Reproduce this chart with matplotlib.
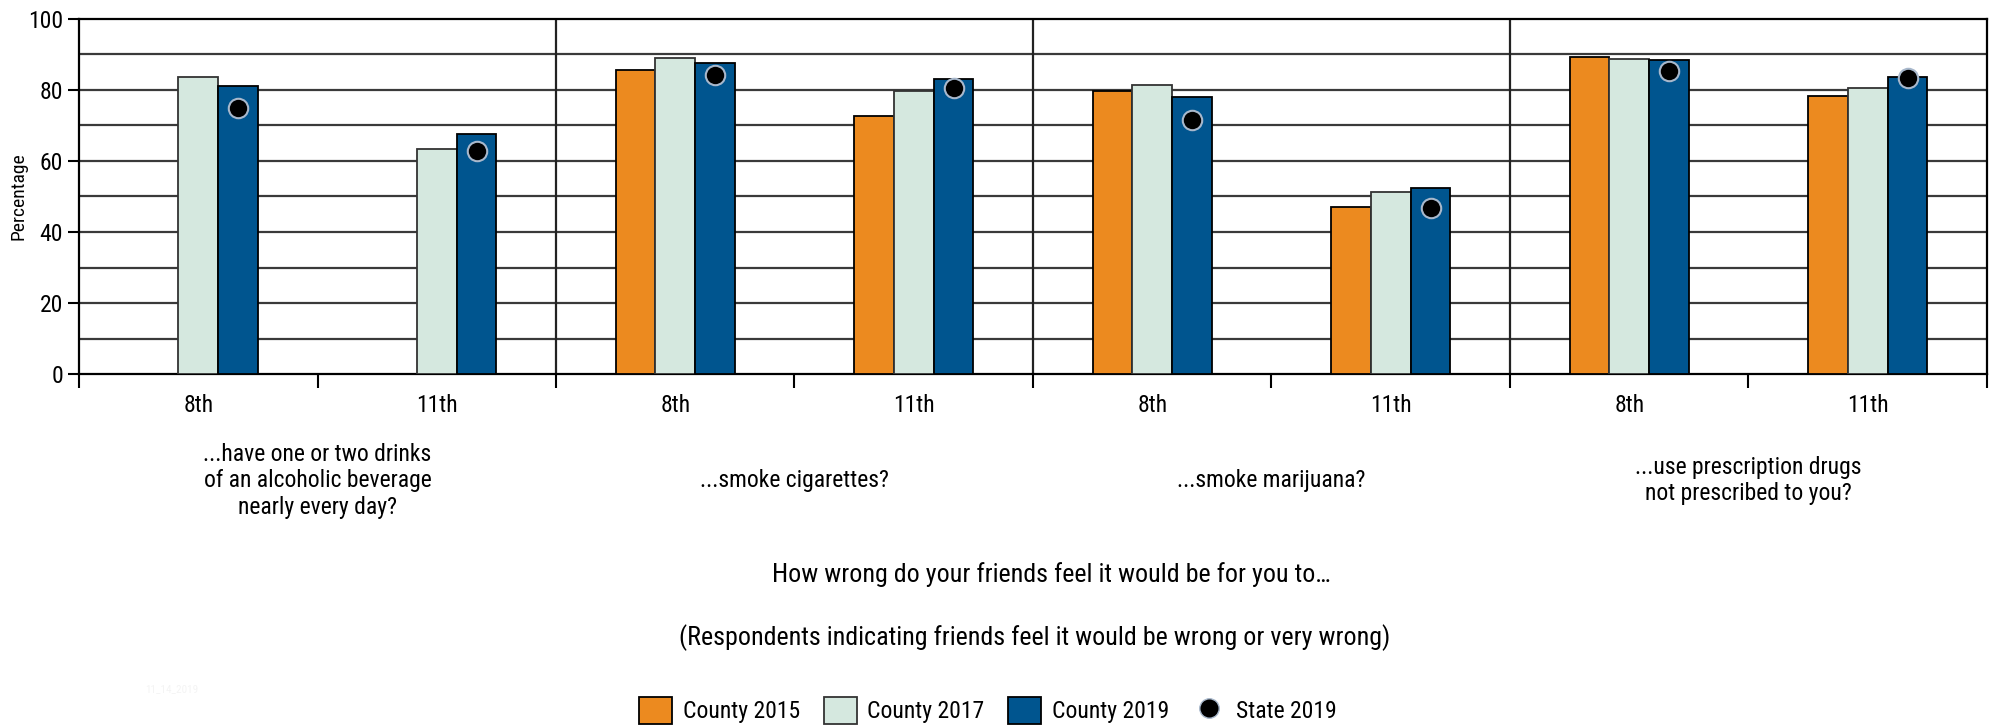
import matplotlib
matplotlib.use("Agg")
import matplotlib.pyplot as plt
from matplotlib import font_manager
from matplotlib.patches import Patch
from matplotlib.lines import Line2D
import numpy as np

# pick a condensed face if one is installed
installed = {f.name for f in font_manager.fontManager.ttflist}
narrow = False
font = 'DejaVu Sans'
for cand in ['Liberation Sans Narrow', 'Roboto Condensed', 'Open Sans Condensed',
             'Noto Sans Condensed', 'Liberation Sans']:
    if cand in installed:
        font = cand
        narrow = cand != 'Liberation Sans'
        break
plt.rcParams['font.family'] = [font, 'DejaVu Sans']
fs = 17 if narrow else 15.5

# data
grades = ["8th", "11th", "8th", "11th", "8th", "11th", "8th", "11th"]
questions = ["...have one or two drinks\nof an alcoholic beverage\nnearly every day?",
             "...smoke cigarettes?",
             "...smoke marijuana?",
             "...use prescription drugs\nnot prescribed to you?"]
county_2015 = [np.nan, np.nan, 85.5, 72.6, 79.7, 46.9, 89.2, 78.4]
county_2017 = [83.6, 63.3, 89.1, 79.6, 81.3, 51.3, 88.8, 80.6]
county_2019 = [81.0, 67.5, 87.7, 83.2, 78.0, 52.4, 88.5, 83.6]
state_2019 = [74.9, 62.7, 84.3, 80.5, 71.6, 46.8, 85.3, 83.3]
series_names = ["County 2015", "County 2017", "County 2019", "State 2019"]

c_orange = "#EC8A1F"
c_light = "#D5E8DF"
c_blue = "#00558F"

fig = plt.figure(figsize=(20, 7.25), dpi=100)
ax = fig.add_axes([0.0395, 0.484, 0.954, 0.49])

x = np.arange(len(grades)) + 0.5
w = 0.167

ax.bar(x - w, county_2015, w, color=c_orange, edgecolor="black", linewidth=1.3, zorder=3)
ax.bar(x, county_2017, w, color=c_light, edgecolor="#333333", linewidth=1.3, zorder=3)
ax.bar(x + w, county_2019, w, color=c_blue, edgecolor="black", linewidth=1.3, zorder=3)
ax.plot(x + w, state_2019, "o", color="black", markersize=14, markeredgecolor="#A8B8CC",
        markeredgewidth=1.5, linestyle="none", zorder=4)

ax.set_xlim(0, 8)
ax.set_ylim(0, 100)

# gridlines every 10, labels every 20
for g in range(10, 100, 10):
    ax.axhline(g, color="#3a3a3a", linewidth=1.6, zorder=1)
for d in [2, 4, 6]:
    ax.axvline(d, color="#222222", linewidth=1.6, zorder=2)

ax.set_yticks(range(0, 101, 20))
ax.tick_params(axis="y", labelsize=fs, length=8, width=1.5, color="black")
ax.set_xticks(range(0, 9))
ax.set_xticklabels([])
ax.tick_params(axis="x", which="major", length=10, width=1.5, direction="out")
ax.set_xticks(x, minor=True)
ax.set_xticklabels(grades, minor=True, fontsize=fs)
ax.tick_params(axis="x", which="minor", length=0, pad=14)

for s in ax.spines.values():
    s.set_color("black")
    s.set_linewidth(1.6)

ax.set_ylabel("Percentage", fontsize=fs - 3)
ax.yaxis.set_label_coords(-0.027, 0.5)

# group labels under each pair
for i, q in enumerate(questions):
    ax.text(2 * i + 1, -30, q, ha="center", va="center", fontsize=fs,
            linespacing=1.2, clip_on=False)

fig.text(0.5255, 0.207, "How wrong do your friends feel it would be for you to\u2026",
         ha="center", va="center", fontsize=fs * 1.1)
fig.text(0.5175, 0.12, "(Respondents indicating friends feel it would be wrong or very wrong)",
         ha="center", va="center", fontsize=fs * 1.1)
fig.text(0.086, 0.05, "11_14_2019", ha="center", va="center", fontsize=8, color="#f4f4f4")

handles = [Patch(facecolor=c_orange, edgecolor="black", linewidth=1.3),
           Patch(facecolor=c_light, edgecolor="#333333", linewidth=1.3),
           Patch(facecolor=c_blue, edgecolor="black", linewidth=1.3),
           Line2D([], [], marker="o", color="black", linestyle="none", markersize=14,
                  markeredgecolor="#A8B8CC")]
fig.legend(handles, series_names, loc="center", bbox_to_anchor=(0.494, 0.02), ncol=4,
           frameon=False, fontsize=fs, handlelength=1.4, handleheight=1.4,
           columnspacing=1.0, handletextpad=0.45)

fig.savefig("out.png", dpi=100)
